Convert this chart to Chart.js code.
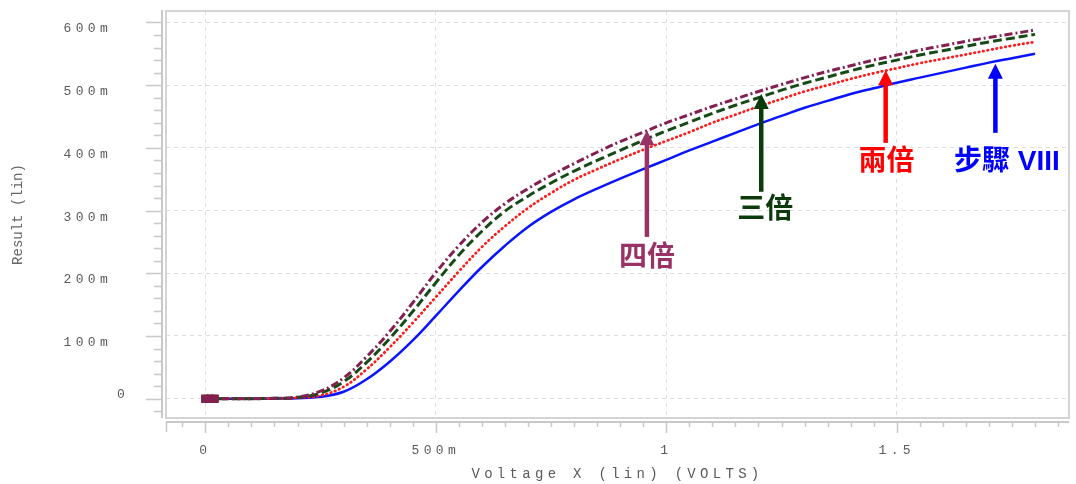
<!DOCTYPE html>
<html>
<head>
<meta charset="utf-8">
<title>Result vs Voltage X</title>
<script src="https://cdn.jsdelivr.net/npm/chart.js@4.4.1/dist/chart.umd.min.js"></script>
<style>
  html, body { margin: 0; padding: 0; background: #fff; }
  #wrap { width: 1076px; height: 484px; }
</style>
</head>
<body>
<div id="wrap"><canvas id="resultChart" width="1076" height="484"></canvas></div>
<script>
// Voltage X (V) sweep points
const voltageX = [0, 0.01, 0.02, 0.1,
  0.15, 0.2, 0.25, 0.3, 0.35, 0.4, 0.45, 0.5, 0.55, 0.6,
  0.65, 0.7, 0.75, 0.8, 0.85, 0.9, 0.95, 1.0,
  1.05, 1.1, 1.15, 1.2, 1.25, 1.3, 1.35, 1.4, 1.45, 1.5, 1.55, 1.6, 1.65, 1.7, 1.75, 1.8];

// Result in mV
const fourTimes = [0, 0, 0, 0,
  0.6, 2.5, 12, 33, 67, 107, 153, 201, 244, 281,
  311, 335, 356, 375, 393, 410, 425, 440,
  453, 466, 478, 490, 501, 512, 522, 531, 540, 548, 556, 563, 570, 576, 582, 588];
const threeTimes = [0, 0, 0, 0,
  0.5, 2, 9, 27, 58, 96, 139, 185, 229, 267,
  299, 323, 344, 363, 380, 396, 412, 427,
  441, 455, 468, 480, 492, 503, 513, 523, 532, 540, 548, 555, 562, 569, 575, 581];
const twoTimes = [0, 0, 0, 0,
  0.4, 1.5, 5, 19, 47, 82, 121, 162, 203, 242,
  275, 304, 328, 349, 366, 382, 397, 411,
  425, 440, 453, 466, 478, 490, 500, 510, 519, 527, 535, 542, 549, 556, 563, 569];
const step8 = [0, 0, 0, 0,
  0.2, 0.8, 3, 11, 31, 59, 93, 132, 172, 210,
  244, 274, 298, 318, 335, 351, 366, 381,
  396, 410, 424, 438, 451, 464, 475, 486, 495, 504, 512, 520, 528, 536, 543, 550];

const xTickValues = [0, 0.5, 1, 1.5];
const xTickLabels = ["0", "500m", "1", "1.5"];
const yTickValues = [0, 100, 200, 300, 400, 500, 600];
const yTickLabels = ["0", "100m", "200m", "300m", "400m", "500m", "600m"];

// arrows + labels, in data units (x in V, y in mV)
const notes = [
  { text: "四倍", color: "#993366", x: 0.958, tip: 428, base: 258, lx: 0.958, ly: 224 },
  { text: "三倍", color: "#0b3a0b", x: 1.206, tip: 486, base: 330, lx: 1.215, ly: 301 },
  { text: "兩倍", color: "#ff0000", x: 1.476, tip: 524, base: 408, lx: 1.478, ly: 377 },
  { text: "步驟 VIII", color: "#0000ff", x: 1.714, tip: 534, base: 424, lx: 1.739, ly: 377 },
];

const MONO = '"Liberation Mono", "DejaVu Sans Mono", monospace';
const AXIS_GRAY = "#c8c8c8";
const TEXT_GRAY = "#5a5a5a";

function toPoints(values) {
  return values.map((v, i) => ({ x: voltageX[i], y: v }));
}

// frame, offset axis lines with minor ticks, y title and the arrow labels
const axisDeco = {
  id: "axisDeco",
  beforeDraw(chart) {
    chart.ctx.letterSpacing = "4.3px"; // spaced-out tick text like the original
  },
  afterDraw(chart) {
    const { ctx, chartArea: a, scales } = chart;
    const xs = scales.x;
    const ys = scales.y;
    ctx.save();
    ctx.letterSpacing = "0px";

    // frame
    ctx.strokeStyle = "#d4d4d4";
    ctx.lineWidth = 2;
    ctx.strokeRect(a.left, a.top, a.right - a.left, a.bottom - a.top);

    // y axis line + ticks (every 20m, long every 100m)
    ctx.strokeStyle = AXIS_GRAY;
    ctx.lineWidth = 2;
    ctx.beginPath();
    ctx.moveTo(a.left - 4, a.top - 1);
    ctx.lineTo(a.left - 4, a.bottom);
    ctx.stroke();
    ctx.lineWidth = 1.5;
    ctx.beginPath();
    for (let k = -1; k <= 30; k++) {
      const y = Math.round(ys.getPixelForValue(k * 20)) + 0.5;
      const len = k % 5 === 0 ? 16 : 8;
      ctx.moveTo(a.left - 4 - len, y);
      ctx.lineTo(a.left - 4, y);
    }
    ctx.stroke();

    // x axis line + ticks (every 50m, long every 500m)
    ctx.lineWidth = 2;
    ctx.beginPath();
    ctx.moveTo(a.left, a.bottom + 4);
    ctx.lineTo(a.right, a.bottom + 4);
    ctx.stroke();
    ctx.lineWidth = 1.5;
    ctx.beginPath();
    ctx.moveTo(a.left + 0.5, a.bottom + 4);
    ctx.lineTo(a.left + 0.5, a.bottom + 14);
    for (let k = -1; k <= 37; k++) {
      const x = Math.round(xs.getPixelForValue(k * 0.05)) + 0.5;
      const len = k % 10 === 0 ? 11 : 5;
      ctx.moveTo(x, a.bottom + 4);
      ctx.lineTo(x, a.bottom + 4 + len);
    }
    ctx.stroke();

    // the "0" y label sits apart from the others
    ctx.fillStyle = TEXT_GRAY;
    ctx.font = "13px " + MONO;
    ctx.textAlign = "center";
    ctx.textBaseline = "middle";
    ctx.fillText(yTickLabels[0], 121, ys.getPixelForValue(0) - 4);

    // y title
    ctx.save();
    ctx.translate(18, (a.top + a.bottom) / 2);
    ctx.rotate(-Math.PI / 2);
    ctx.font = "14px " + MONO;
    ctx.fillStyle = "#666";
    ctx.fillText("Result (lin)", 0, 0);
    ctx.restore();

    // arrows with labels
    notes.forEach((n) => {
      const x = xs.getPixelForValue(n.x);
      const yTip = ys.getPixelForValue(n.tip);
      const yBase = ys.getPixelForValue(n.base);
      const head = 15;
      ctx.strokeStyle = n.color;
      ctx.fillStyle = n.color;
      ctx.lineWidth = 4.5;
      ctx.beginPath();
      ctx.moveTo(x, yBase);
      ctx.lineTo(x, yTip + head - 1);
      ctx.stroke();
      ctx.beginPath();
      ctx.moveTo(x, yTip);
      ctx.lineTo(x - 7.5, yTip + head);
      ctx.lineTo(x + 7.5, yTip + head);
      ctx.closePath();
      ctx.fill();

      ctx.font = 'bold 28px "Liberation Sans", "Noto Sans CJK TC", sans-serif';
      ctx.textAlign = "center";
      ctx.textBaseline = "middle";
      ctx.fillText(n.text, xs.getPixelForValue(n.lx), ys.getPixelForValue(n.ly));
    });

    ctx.restore();
  },
};

const markerRadius = (c) => (c.dataIndex < 3 ? 3.5 : 0);

const ctx = document.getElementById("resultChart").getContext("2d");
const chart = new Chart(ctx, {
  type: "line",
  data: {
    datasets: [
      {
        label: "四倍",
        data: toPoints(fourTimes),
        borderColor: "#83204f",
        backgroundColor: "#83204f",
        borderWidth: 3,
        borderDash: [8, 3, 2, 3],
      },
      {
        label: "三倍",
        data: toPoints(threeTimes),
        borderColor: "#164a16",
        backgroundColor: "#164a16",
        borderWidth: 3,
        borderDash: [9, 4],
      },
      {
        label: "兩倍",
        data: toPoints(twoTimes),
        borderColor: "#ff1a1a",
        backgroundColor: "#ff1a1a",
        borderWidth: 2.8,
        borderDash: [0.5, 4],
        borderCapStyle: "round",
      },
      {
        label: "步驟 VIII",
        data: toPoints(step8),
        borderColor: "#0a14ff",
        backgroundColor: "#0a14ff",
        borderWidth: 2.5,
      },
    ],
  },
  options: {
    responsive: false,
    animation: false,
    devicePixelRatio: 1,
    layout: { padding: { top: 11, right: 3, left: 0, bottom: 0 } },
    elements: {
      line: { tension: 0.4, fill: false },
      point: { pointStyle: "rect", radius: markerRadius, borderWidth: 1 },
    },
    plugins: {
      legend: { display: false },
      tooltip: { enabled: false },
    },
    scales: {
      x: {
        type: "linear",
        min: -0.0853,
        max: 1.8737,
        afterBuildTicks: (s) => {
          s.ticks = xTickValues.map((v) => ({ value: v }));
        },
        afterFit: (s) => {
          s.height = 66;
          s.paddingLeft = 0;
          s.paddingRight = 0;
        },
        grid: { color: "#dedede", lineWidth: 1, drawTicks: false },
        border: { display: false, dash: [4, 4] },
        ticks: {
          callback: (v, i) => xTickLabels[i],
          padding: 25,
          color: TEXT_GRAY,
          font: { family: MONO, size: 13 },
          autoSkip: false,
          maxRotation: 0,
        },
        title: {
          display: true,
          text: "Voltage X (lin) (VOLTS)",
          color: TEXT_GRAY,
          font: { family: MONO, size: 14 },
          padding: { top: 0, bottom: 1 },
        },
      },
      y: {
        type: "linear",
        min: -30.8,
        max: 618.3,
        afterBuildTicks: (s) => {
          s.ticks = yTickValues.map((v) => ({ value: v }));
        },
        afterFit: (s) => {
          s.width = 166;
          s.paddingTop = 0;
          s.paddingBottom = 0;
        },
        grid: { color: "#dedede", lineWidth: 1, drawTicks: false },
        border: { display: false, dash: [4, 4] },
        ticks: {
          callback: (v, i) => (v === 0 ? "" : yTickLabels[i]),
          align: "start",
          padding: 54,
          color: TEXT_GRAY,
          font: { family: MONO, size: 13 },
          autoSkip: false,
        },
      },
    },
  },
  plugins: [axisDeco],
});
</script>
</body>
</html>
